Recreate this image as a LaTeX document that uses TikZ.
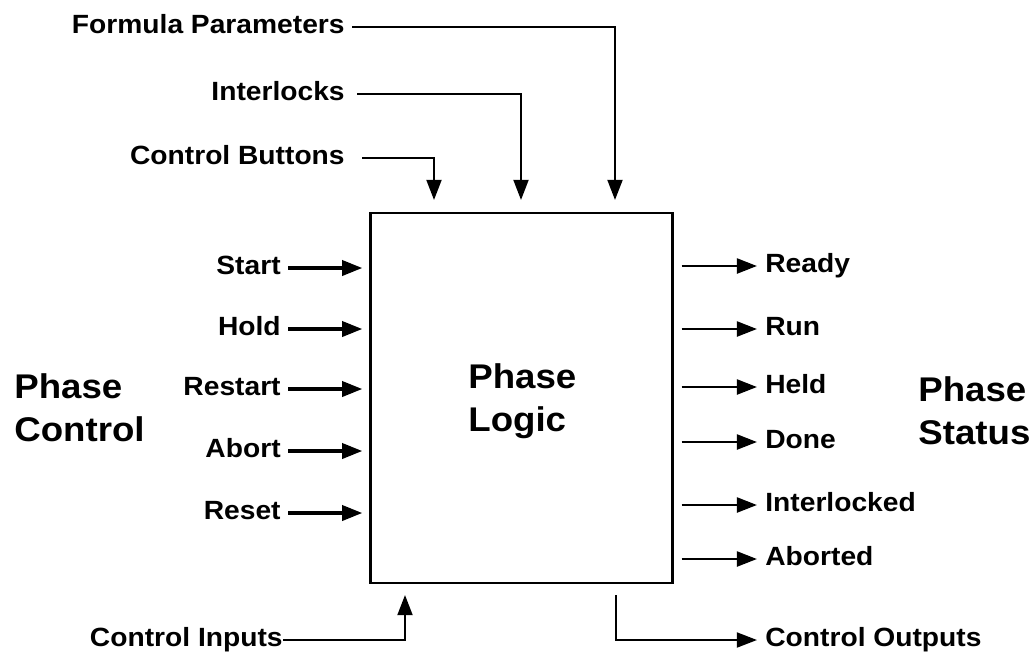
\documentclass[tikz,border=0pt]{standalone}
\usepackage{fontspec}
\setmainfont{Liberation Sans}[FakeStretch=1.07]
\usetikzlibrary{arrows.meta, positioning}

\begin{document}
\begin{tikzpicture}[x=0.02cm, y=-0.02cm,
    lbl/.style={font=\bfseries\fontsize{15}{18}\selectfont, inner sep=0pt, text height=0.72em, text depth=0pt},
    big/.style={font=\bfseries\fontsize{19.5}{24.5}\selectfont, align=left, inner sep=0pt, anchor=north west},
    sig/.style={-{Triangle[length=11.5pt,width=8.5pt]}, line width=1.3pt},
    sigout/.style={sig, line width=1.6pt},
    sigin/.style={sig, line width=2.1pt}]
  \useasboundingbox (0,0) rectangle (1034,656);

  % the logic block
  \node[draw, line width=1.3pt, minimum width=6.04cm, minimum height=7.4cm, inner sep=0pt] (logic) at (521.5,398) {};
  \node[big] (logictxt) at (468,363) {Phase\\Logic};
  \node[big] (ctrltxt) at (14,373) {Phase\\Control};
  \node[big] (stattxt) at (918,376) {Phase\\Status};

  % inputs from above
  \node[lbl, anchor=east] (formula) at (345,27) {Formula Parameters};
  \node[lbl, anchor=east] (ilocks) at (345,94) {Interlocks};
  \node[lbl, anchor=east] (buttons) at (345,158) {Control Buttons};
  \coordinate (formulain) at (615,200);
  \coordinate (ilocksin) at (521,200);
  \coordinate (buttonsin) at (434,200);
  \draw[sig] ([xshift=0.14cm]formula.east) -| (formulain);
  \draw[sig] ([xshift=0.24cm]ilocks.east) -| (ilocksin);
  \draw[sig] ([xshift=0.34cm]buttons.east) -| (buttonsin);

  % phase commands
  \foreach \name/\txt/\y in {start/Start/268, hold/Hold/329, restart/Restart/389, abort/Abort/451, reset/Reset/513}{
    \node[lbl, anchor=east] (\name) at (281,\y) {\txt};
    \draw[sigin] ([xshift=0.14cm]\name.east) -- ([xshift=-0.14cm]logic.west |- \name);
  }

  % phase states
  \foreach \name/\txt/\y in {ready/Ready/266, run/Run/329, held/Held/387, done/Done/442, ilocked/Interlocked/505, aborted/Aborted/559}{
    \node[lbl, anchor=west] (\name) at (765,\y) {\txt};
    \draw[sigout] ([xshift=0.16cm]logic.east |- \name) -- ([xshift=-0.16cm]\name.west);
  }

  % control inputs / outputs
  \node[lbl, anchor=east] (cin) at (283,640) {Control Inputs};
  \node[lbl, anchor=west] (cout) at (765,640) {Control Outputs};
  \coordinate (cinend) at (405,595);
  \coordinate (coutstart) at (616,595);
  \draw[sig] (cin.east) -| (cinend);
  \draw[sig] (coutstart) |- ([xshift=-0.16cm]cout.west);
\end{tikzpicture}
\end{document}
